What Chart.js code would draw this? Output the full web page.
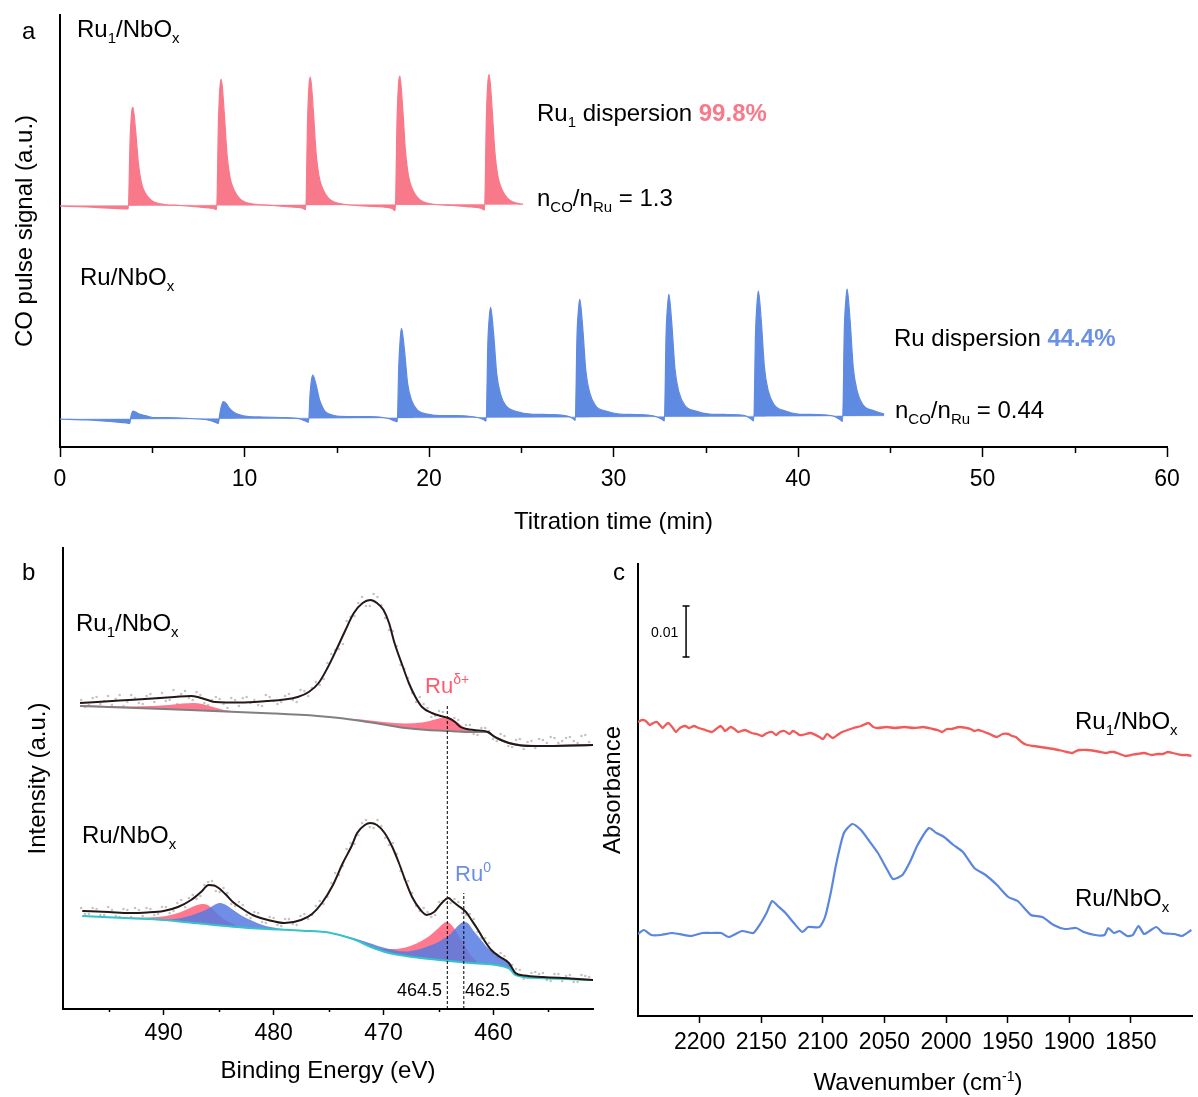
<!DOCTYPE html>
<html>
<head>
<meta charset="utf-8">
<script src="https://cdn.jsdelivr.net/npm/chart.js@4.4.0/dist/chart.umd.min.js"></script>
<style>
body { margin: 0; background: #fff; }
#wrap { position: relative; width: 1198px; height: 1097px; overflow: hidden; font-family: "Liberation Sans", Arial, sans-serif; color: #000; background: #fff; }
canvas { position: absolute; }
.t { position: absolute; font-size: 24px; line-height: 26px; white-space: nowrap; }
.t sub { font-size: 15px; vertical-align: -6px; line-height: 0; }
.t sup { font-size: 14px; vertical-align: 9px; line-height: 0; }
.s22 { font-size: 22px; }
.num { font-size: 18px; line-height: 22px; }
.bar { font-size: 14px; line-height: 16px; }
</style>
</head>
<body>
<div id="wrap">
  <canvas id="pulse" width="1198" height="540" style="left:0;top:0"></canvas>
  <canvas id="xps" width="600" height="557" style="left:0;top:540px"></canvas>
  <canvas id="ir" width="598" height="557" style="left:600px;top:540px"></canvas>

  <div class="t" style="left:22px;top:18px">a</div>
  <div class="t" style="left:77px;top:16px">Ru<sub>1</sub>/NbO<sub>x</sub></div>
  <div class="t" style="left:537px;top:100px">Ru<sub>1</sub> dispersion <b style="color:#f8798a">99.8%</b></div>
  <div class="t" style="left:537px;top:185px">n<sub>CO</sub>/n<sub>Ru</sub> = 1.3</div>
  <div class="t" style="left:80px;top:264px">Ru/NbO<sub>x</sub></div>
  <div class="t" style="left:894px;top:325px">Ru dispersion <b style="color:#6a91e6">44.4%</b></div>
  <div class="t" style="left:895px;top:397px">n<sub>CO</sub>/n<sub>Ru</sub> = 0.44</div>

  <div class="t" style="left:22px;top:559px">b</div>
  <div class="t" style="left:76px;top:610px">Ru<sub>1</sub>/NbO<sub>x</sub></div>
  <div class="t s22" style="left:425px;top:673px;color:#ff5a6e">Ru<sup>δ+</sup></div>
  <div class="t" style="left:82px;top:822px">Ru/NbO<sub>x</sub></div>
  <div class="t s22" style="left:455px;top:861px;color:#6b8fe3">Ru<sup>0</sup></div>
  <div class="t num" style="right:756px;top:979px">464.5</div>
  <div class="t num" style="left:465px;top:979px">462.5</div>

  <div class="t" style="left:613px;top:559px">c</div>
  <div class="t bar" style="left:651px;top:624px">0.01</div>
  <div class="t" style="left:1075px;top:708px">Ru<sub>1</sub>/NbO<sub>x</sub></div>
  <div class="t" style="left:1075px;top:885px">Ru/NbO<sub>x</sub></div>
  <div class="t" style="left:918px;top:1069px;transform:translateX(-50%)">Wavenumber (cm<sup>-1</sup>)</div>
</div>

<script>
const FONT = '"Liberation Sans", Arial, sans-serif';
const PINK = '#f8798a';
const BLUE = '#5f8ae2';

// ---- a: CO pulse titration, [time (min), signal] ----
const pulseTicks = [0, 10, 20, 30, 40, 50, 60];
const pulseMinor = [5, 15, 25, 35, 45, 55];

const ru1Pulses = [
  [0, 241], [1.5, 240], [3.0, 238.5], [3.6, 238], [3.70, 238],
  [3.80, 307], [3.88, 334], [3.95, 339.7], [4.11, 314], [4.25, 283.4], [4.42, 263.7], [4.63, 253.8], [4.94, 246.9], [5.25, 244], [5.67, 242.5],
  [6.5, 241.5], [7.5, 240], [8.3, 238.5], [8.49, 237.5],
  [8.59, 326], [8.67, 360], [8.74, 367.7], [8.90, 334.8], [9.04, 295.5], [9.21, 270.1], [9.42, 257.5], [9.73, 248.6], [10.04, 244.8], [10.46, 243],
  [11.5, 241.5], [12.5, 240], [13.1, 239], [13.32, 237.5],
  [13.42, 327.4], [13.50, 362.3], [13.57, 370], [13.73, 336.5], [13.87, 296.5], [14.04, 270.7], [14.25, 257.8], [14.56, 248.7], [14.87, 244.9], [15.29, 243],
  [16.5, 241], [17.5, 240], [18.0, 238.5], [18.17, 236.5],
  [18.27, 328.1], [18.35, 363.2], [18.42, 371], [18.58, 337.2], [18.72, 296.9], [18.89, 270.9], [19.10, 257.9], [19.41, 248.8], [19.72, 244.9], [20.14, 243],
  [21.3, 241.5], [22.3, 240], [22.85, 238.5], [23.01, 237],
  [23.11, 329], [23.19, 364.4], [23.26, 372.3], [23.42, 338.2], [23.56, 297.5], [23.73, 271.2], [23.94, 258.1], [24.25, 248.9], [24.56, 244.9], [24.98, 243], [25.1, 242.7]
];
const ru1Base = [[0, 241.3], [25.1, 242.7]];

const ruPulses = [
  [0, 28], [1.5, 27], [3.0, 25], [3.6, 24], [3.78, 23.7],
  [3.85, 31], [3.92, 35], [3.97, 36], [4.1, 35], [4.3, 33], [4.63, 31.3], [5.04, 29.5], [5.8, 29.5], [7.0, 28.5], [8.0, 27], [8.45, 24.5], [8.58, 23.7],
  [8.66, 33], [8.75, 41], [8.83, 45], [8.88, 45.3], [9.0, 43.5], [9.19, 38.7], [9.4, 35], [9.61, 33], [10.23, 30.3], [11.0, 30], [12.0, 29.5], [13.0, 28], [13.35, 25.5], [13.47, 24.7],
  [13.55, 52], [13.63, 67], [13.70, 72], [13.86, 63.7], [14.07, 47], [14.25, 39], [14.38, 35.3], [14.6, 33], [15.0, 31], [15.8, 30.5], [16.8, 30.5], [17.8, 28.5], [18.15, 26], [18.28, 25.3],
  [18.36, 80], [18.44, 108], [18.51, 118.7], [18.67, 97], [18.84, 63.7], [19.05, 47], [19.36, 37], [19.98, 32.7], [20.6, 31.3], [21.5, 31.5], [22.5, 30], [22.95, 27.5], [23.1, 26],
  [23.19, 104], [23.27, 130], [23.34, 139.7], [23.50, 113.6], [23.67, 73.4], [23.88, 52.7], [24.19, 40.8], [24.81, 35.3], [25.5, 33], [26.5, 32.5], [27.5, 31], [27.8, 28.5], [27.93, 26.5],
  [28.02, 110], [28.10, 137], [28.17, 147.7], [28.33, 119.7], [28.50, 76.5], [28.71, 54.3], [29.02, 41.5], [29.64, 35.7], [30.3, 33], [31.2, 32.5], [32.2, 31], [32.6, 28], [32.76, 26],
  [32.85, 113], [32.93, 141], [33.0, 152.7], [33.16, 123.5], [33.33, 78.5], [33.54, 55.3], [33.85, 42], [34.47, 35.9], [35.2, 33], [36.2, 32.5], [37.1, 31.5], [37.45, 28], [37.6, 26],
  [37.70, 115], [37.78, 144], [37.85, 156], [38.01, 126], [38.18, 79.8], [38.39, 56], [38.70, 42.3], [39.32, 36], [40.0, 33], [41.0, 32.5], [41.9, 31], [42.27, 27.5], [42.42, 25.5],
  [42.51, 117], [42.59, 146], [42.66, 158], [42.82, 127.5], [42.99, 80.5], [43.20, 56.4], [43.51, 42.4], [44.13, 36.1], [44.67, 33]
];
const ruBase = [[0, 27.7], [44.67, 31.3]];

// ---- b: Ru 3p XPS, [binding energy (eV), intensity] ----
const xpsTicks = [460, 470, 480, 490];
const xpsMinor = [455, 465, 475, 485, 495];

const xpsGridEV = [497.5, 496.8, 496.1, 495.4, 494.7, 494.0, 493.3, 492.6, 491.9, 491.2, 490.5, 489.8, 489.1, 488.4, 487.7, 487.0, 486.3,
  485.6, 484.9, 484.2, 483.5, 482.8, 482.1, 481.4, 480.7, 480.0, 479.3, 478.6, 477.9, 477.2, 476.5, 475.8, 475.1, 474.4, 473.7, 473.0,
  472.3, 471.6, 470.9, 470.2, 469.5, 468.8, 468.1, 467.4, 466.7, 466.0, 465.3, 464.6, 463.9, 463.2, 462.5, 461.8, 461.1, 460.4, 459.7,
  459.0, 458.3, 457.6, 456.9, 456.2, 455.5, 454.8, 454.1, 453.4, 452.7, 452.0, 451.3];
const rawTop = [309, 304, 312, 308, 304, 314, 307, 311, 305, 315, 311, 308, 319, 315, 311, 317, 306, 309, 310, 301, 309, 311, 306, 304,
  314, 308, 307, 315, 307, 318, 321, 324, 346, 359, 365, 392, 406, 403, 415, 404, 379, 363, 340, 316, 312, 301, 293, 297, 285, 289, 284,
  275, 281, 278, 268, 273, 262, 270, 267, 261, 269, 272, 266, 271, 268, 273, 267];
const rawBottom = [101, 95, 100, 94, 99, 92, 99, 101, 93, 100, 95, 102, 98, 109, 111, 110, 124, 128, 117, 116, 103, 104, 91, 96, 86, 91,
  83, 90, 84, 95, 94, 108, 112, 136, 143, 166, 174, 189, 181, 183, 164, 155, 130, 116, 98, 97, 94, 108, 106, 107, 94, 90, 71, 66, 52, 53,
  44, 39, 31, 37, 36, 28, 35, 33, 27, 34, 32];

const xpsGridEV2 = [497.15, 496.45, 495.75, 495.05, 494.35, 493.65, 492.95, 492.25, 491.55, 490.85, 490.15, 489.45, 488.75, 488.05,
  487.35, 486.65, 485.95, 485.25, 484.55, 483.85, 483.15, 482.45, 481.75, 481.05, 480.35, 479.65, 478.95, 478.25, 477.55, 476.85,
  476.15, 475.45, 474.75, 474.05, 473.35, 472.65, 471.95, 471.25, 470.55, 469.85, 469.15, 468.45, 467.75, 467.05, 466.35, 465.65,
  464.95, 464.25, 463.55, 462.85, 462.15, 461.45, 460.75, 460.05, 459.35, 458.65, 457.95, 457.25, 456.55, 455.85, 455.15, 454.45,
  453.75, 453.05, 452.35, 451.65];
const rawTop2 = [302, 311, 305, 313, 310, 303, 314, 306, 313, 307, 316, 309, 305, 318, 309, 314, 304, 312, 305, 311, 303, 312, 309, 303,
  312, 305, 313, 309, 319, 313, 327, 330, 355, 360, 388, 393, 412, 403, 412, 391, 378, 344, 331, 307, 305, 292, 298, 288, 291, 278, 284,
  274, 281, 270, 275, 263, 269, 260, 268, 270, 266, 271, 268, 272, 266, 274];
const rawBottom2 = [95, 101, 94, 102, 93, 100, 92, 99, 101, 94, 102, 96, 106, 102, 114, 113, 127, 118, 121, 105, 107, 94, 97, 87, 92, 84,
  90, 85, 93, 90, 103, 105, 126, 134, 160, 165, 186, 182, 189, 171, 166, 138, 128, 103, 101, 92, 107, 106, 110, 96, 95, 77, 71, 55, 56,
  43, 40, 30, 36, 35, 29, 35, 28, 34, 27, 33];

const fitTop = [[497.6, 306], [494, 308.5], [491, 310.5], [489, 312], [487.5, 313], [486.9, 312], [486, 309], [485.3, 307], [483, 306.5],
  [480.6, 308], [479, 309.5], [477.8, 312], [476.8, 317], [475.9, 326], [475.1, 341], [474.3, 359], [473.5, 378], [472.7, 396], [471.9, 406],
  [471.2, 409], [470.6, 406], [470.0, 399], [469.5, 386], [469.0, 366], [468.3, 344], [467.7, 326], [467.1, 312], [466.5, 302], [465.6, 296],
  [464.8, 293], [464.1, 291], [463.5, 287], [463.0, 282], [462.4, 280], [461.8, 279], [460.5, 277], [460.0, 273], [459.5, 270], [458.6, 266],
  [457.5, 263.5], [456.1, 263], [453, 263.5], [450.9, 264]];
const bgTop = [[497.6, 303], [490, 300], [480, 295.5], [476, 293], [474, 291], [472, 288], [470, 284.5], [468, 281], [466, 279], [464, 278],
  [462, 277], [460.6, 277], [459.9, 272], [458.6, 266], [456.1, 263], [450.9, 264]];
const pinkTopL = [[497.5, 304], [495, 303], [493, 302.5], [491, 303], [489.5, 304], [488.3, 305.5], [487.3, 306], [486.5, 305], [485.5, 302],
  [484.5, 299], [483.5, 297.6]];
const pinkTop = [[474, 291], [472, 289.5], [470, 287], [468, 285.5], [466.5, 286.5], [465.5, 289], [464.8, 291], [464.3, 292], [463.8, 290.5],
  [463.2, 286], [462.5, 280.5], [461.8, 277.5], [461, 277]];

const fitBottom = [[497.4, 98], [495, 97], [493.1, 96], [491.5, 96.5], [490.0, 98], [488.7, 102], [487.5, 109], [486.6, 117], [485.9, 124],
  [485.4, 123.5], [485.0, 121], [484.3, 114], [483.7, 107], [482.8, 100], [481.9, 94], [480.5, 89], [479.0, 86], [477.5, 89], [476.5, 95],
  [475.6, 106], [474.6, 124], [473.7, 146], [472.9, 163], [472.4, 176], [471.7, 184], [471.2, 186], [470.6, 184], [469.9, 176], [469.2, 162],
  [468.6, 146], [468.0, 128], [467.4, 112], [466.7, 100], [466.1, 94], [465.4, 97], [464.7, 106], [464.1, 111], [463.7, 107.5], [463.3, 104],
  [462.5, 97], [462.0, 89], [461.4, 79], [460.8, 68], [460.2, 59], [459.4, 52], [458.6, 46], [458.0, 36], [457.2, 33.5], [455.5, 32],
  [453, 30.5], [450.9, 29]];
const bgBottom = [[497.4, 93], [493.1, 90.7], [490.0, 89], [486.9, 85.7], [483.7, 82.3], [480.6, 80], [477.4, 78.3], [474.9, 76.3],
  [472.7, 69.7], [471.2, 62.3], [469.6, 56.3], [468.0, 53], [464.9, 49], [461.8, 45.7], [458.6, 40.7], [458.0, 34], [455.5, 30.7], [450.9, 29]];
const pinkBottomL = [[495, 92], [492.5, 91.5], [490.5, 92], [489, 95], [488, 99], [487.2, 103], [486.5, 105], [486.0, 104], [485.5, 99.5],
  [485, 94], [484.3, 88.5], [483.5, 84]];
const blueBottomL = [[490.5, 89.5], [489, 90], [488, 92], [487, 95.5], [486, 100], [485.4, 104], [484.9, 106], [484.4, 104.5], [483.8, 100],
  [483, 94], [482, 88.5], [481, 84], [479.5, 80.5], [478, 79]];
const pinkBottom = [[474, 74.5], [472, 67.5], [470, 60], [469, 60], [468, 61.5], [467, 65.5], [466.1, 71], [465.5, 76], [464.9, 82],
  [464.5, 86], [464.3, 87], [464.0, 86], [463.6, 81], [463.2, 74], [462.6, 63], [462, 53], [461.5, 47]];
const blueBottom = [[476, 78], [474, 74.5], [472, 68.5], [470, 61.5], [468, 57.5], [467, 59], [466, 62.5], [465, 67], [464.5, 70.5],
  [464, 74], [463.5, 80], [463, 85.5], [462.7, 87], [462.3, 85.5], [461.8, 78], [461.2, 70], [460.6, 62], [460.2, 58], [459.6, 53],
  [459, 49.5], [458.6, 46], [458.2, 40], [458, 36], [457.5, 34], [457, 33]];
const refLineEV = [464.2, 462.7];
const refLineTop = [303, 116];

// ---- c: CO-DRIFTS, [wavenumber (cm-1), absorbance] ----
const irTicks = [1850, 1900, 1950, 2000, 2050, 2100, 2150, 2200];
const irRu1 = [[2250, 294], [2246.8, 296], [2243.7, 295], [2240.6, 291], [2237.6, 293], [2234.6, 294], [2232.3, 291], [2230, 288],
  [2227.7, 291], [2225.4, 293], [2222.3, 289], [2219.2, 284], [2216.9, 287], [2214.6, 289], [2211.5, 290], [2208.5, 288], [2204.6, 290],
  [2200.8, 288], [2195.4, 286], [2190.1, 284], [2186.6, 287], [2183.1, 290], [2181.2, 288], [2179.4, 285], [2177.1, 287], [2174.8, 289],
  [2171.7, 287], [2168.7, 284], [2163.3, 286], [2157.9, 283], [2153.6, 282], [2149.4, 280], [2145.2, 283], [2141.1, 284], [2138, 281],
  [2134.9, 284], [2131.1, 285], [2127.3, 282], [2124.2, 285], [2121.2, 283], [2118.9, 281], [2116.6, 281], [2109.7, 283], [2102.8, 279],
  [2099.7, 277], [2096.7, 282], [2094.3, 280], [2092, 278], [2088.2, 281], [2084.4, 284], [2079.8, 286], [2075.2, 288], [2069, 290],
  [2062.9, 293], [2059.1, 289], [2055.3, 288], [2048.4, 289], [2041.5, 288], [2033.8, 289], [2026.1, 288], [2018.5, 289], [2010.9, 287],
  [2007, 286], [2003.1, 284], [1999.3, 287], [1995.5, 287], [1989.4, 289], [1983.3, 288], [1980.2, 287], [1977.1, 285], [1974, 286],
  [1971, 285], [1964.8, 282], [1958.7, 279], [1954.1, 282], [1949.5, 282], [1946.4, 280], [1943.4, 279], [1938.8, 274], [1934.2, 271],
  [1928.8, 270], [1923.5, 269], [1918.1, 268], [1912.7, 267], [1905.1, 265], [1897.5, 263], [1894.4, 265], [1891.3, 266], [1885.2, 266],
  [1879.1, 265], [1874.5, 264], [1869.9, 263], [1866.8, 264], [1863.7, 264], [1859.1, 262], [1854.6, 260], [1849.9, 261], [1845.3, 262],
  [1839.2, 263], [1833.1, 261], [1828.5, 262], [1823.9, 262], [1820, 264], [1816.2, 263], [1812.4, 262], [1808.6, 261], [1804.7, 261],
  [1800.9, 260]];
const irRu = [[2250, 82], [2245.3, 86], [2239.2, 81], [2231.5, 81], [2222.3, 83], [2207, 80], [2197.8, 83], [2190.1, 83], [2182.5, 83],
  [2176.3, 79], [2165.6, 85], [2156.4, 83], [2150.3, 93], [2145.7, 103], [2141.1, 115], [2136.5, 110], [2130.3, 103], [2124.2, 94],
  [2116.6, 84], [2111.9, 89], [2102.8, 89], [2098.2, 99], [2093.6, 123], [2089, 153], [2082.9, 183], [2076.1, 192], [2069.1, 186],
  [2062.9, 176], [2055.3, 163], [2047.6, 146], [2043, 137], [2035.4, 141], [2029.3, 154], [2023.1, 171], [2013.9, 188], [2007.8, 183],
  [2001.6, 179], [1994, 171], [1986.3, 164], [1977.1, 148], [1967.9, 141], [1958.7, 131], [1949.5, 119], [1941.9, 115], [1931.1, 101],
  [1921.9, 99], [1912.7, 91], [1903.6, 87], [1894.4, 88], [1888.2, 84], [1879.1, 81], [1871.4, 81], [1868.4, 88], [1863.7, 83],
  [1859.1, 85], [1853, 80], [1848.4, 81], [1843.8, 90], [1839.2, 82], [1829.4, 89], [1823.9, 83], [1814.7, 82], [1808.6, 80], [1800.9, 86]];
const scaleBarWN = 2211;
const scaleBarAbs = [359, 410]; // 0.01 a.u.

const pts = arr => arr.map(p => ({ x: p[0], y: p[1] }));

// minor tick marks below the x axis
const minorTicks = {
    id: 'minorTicks',
    afterDraw(chart, args, opts) {
        if (!opts.values) return;
        const { ctx } = chart;
        const x = chart.scales.x;
        const y0 = chart.chartArea.bottom;
        ctx.save();
        ctx.strokeStyle = '#000';
        ctx.lineWidth = 1.5;
        opts.values.forEach(v => {
            const px = Math.round(x.getPixelForValue(v)) + 0.5;
            ctx.beginPath();
            ctx.moveTo(px, y0);
            ctx.lineTo(px, y0 + opts.length);
            ctx.stroke();
        });
        ctx.restore();
    }
};

function xAxis(o) {
    return {
        type: 'linear', min: o.min, max: o.max, reverse: !!o.reverse,
        afterBuildTicks: s => { s.ticks = o.ticks.map(v => ({ value: v })); },
        afterFit: s => { s.height = o.height; },
        ticks: { color: '#000', font: { family: FONT, size: 23 }, padding: o.pad, maxRotation: 0, autoSkip: false, callback: v => String(v) },
        grid: { drawOnChartArea: false, drawTicks: true, tickLength: o.tick, tickWidth: 1.5, tickColor: '#000' },
        border: { display: true, color: '#000', width: 2 },
        title: o.title
            ? { display: true, text: o.title, color: '#000', font: { family: FONT, size: 24 }, padding: { top: 0, bottom: o.titlePad } }
            : { display: false }
    };
}

function yAxis(o) {
    return {
        type: 'linear', min: 0, max: o.max,
        afterFit: s => { s.width = o.width; },
        ticks: { display: false },
        grid: { display: false },
        border: { display: true, color: '#000', width: 2 },
        title: { display: true, text: o.title, color: '#000', font: { family: FONT, size: 24 }, padding: { top: o.titlePad, bottom: 0 } }
    };
}

function baseOptions(padding, scales, minor) {
    return {
        responsive: false,
        animation: false,
        layout: { padding },
        plugins: { legend: { display: false }, tooltip: { enabled: false }, minorTicks: minor },
        elements: { point: { radius: 0 } },
        scales
    };
}

function line(data, color, width, extra) {
    return Object.assign({
        data: pts(data), borderColor: color, borderWidth: width, pointRadius: 0,
        fill: false, cubicInterpolationMode: 'monotone'
    }, extra || {});
}

function peak(data, color, target) {
    return line(data, 'rgba(0,0,0,0)', 0, { backgroundColor: color, fill: target });
}

function createPulseChart() {
    new Chart(document.getElementById('pulse'), {
        type: 'line',
        data: {
            datasets: [
                line(ru1Pulses, PINK, 1.2, { backgroundColor: PINK, fill: '+1' }),
                line(ru1Base, 'rgba(248,121,138,0.45)', 1),
                line(ruPulses, BLUE, 1.2, { backgroundColor: BLUE, fill: '+1' }),
                line(ruBase, 'rgba(95,138,226,0.45)', 1)
            ]
        },
        options: baseOptions({ top: 15, right: 31, left: 0, bottom: 0 }, {
            x: xAxis({ min: 0, max: 60, ticks: pulseTicks, height: 93, pad: 9, tick: 10, title: 'Titration time (min)', titlePad: 3 }),
            y: yAxis({ max: 432, width: 60, title: 'CO pulse signal (a.u.)', titlePad: 11 })
        }, { values: pulseMinor, length: 6 }),
        plugins: [minorTicks]
    });
}

function createXpsChart() {
    const dashed = (i) => line([[refLineEV[i], 0], [refLineEV[i], refLineTop[i]]], '#000', 1, { borderDash: [3, 2], cubicInterpolationMode: 'default' });
    const raw = (grid, vals) => ({
        data: grid.map((e, i) => ({ x: e, y: vals[i] })), showLine: false,
        pointRadius: 1.3, pointBackgroundColor: '#c4c4c4', pointBorderWidth: 0, borderColor: '#c4c4c4'
    });
    new Chart(document.getElementById('xps'), {
        type: 'line',
        data: {
            datasets: [
                line(fitTop, '#231815', 2),
                line(fitBottom, '#231815', 2),
                dashed(0),
                dashed(1),
                line(bgTop, '#808080', 2),
                line(bgBottom, '#34c3c6', 2),
                peak(blueBottom, 'rgba(86,122,226,0.85)', 5),
                peak(blueBottomL, 'rgba(86,122,226,0.85)', 5),
                peak(pinkBottom, 'rgba(255,108,132,0.92)', 5),
                peak(pinkBottomL, 'rgba(255,108,132,0.92)', 5),
                peak(pinkTop, 'rgba(255,108,132,0.92)', 4),
                peak(pinkTopL, 'rgba(255,108,132,0.92)', 4),
                raw(xpsGridEV, rawTop),
                raw(xpsGridEV, rawBottom),
                raw(xpsGridEV2, rawTop2),
                raw(xpsGridEV2, rawBottom2)
            ]
        },
        options: baseOptions({ top: 8, right: 7, left: 0, bottom: 0 }, {
            x: xAxis({ min: 450.95, max: 499.15, reverse: true, ticks: xpsTicks, height: 88, pad: 5, tick: 6, title: 'Binding Energy (eV)', titlePad: 11 }),
            y: yAxis({ max: 461, width: 63, title: 'Intensity (a.u.)', titlePad: 24 })
        }, { values: xpsMinor, length: 3 }),
        plugins: [minorTicks]
    });
}

function createIrChart() {
    new Chart(document.getElementById('ir'), {
        type: 'line',
        data: {
            datasets: [
                line(irRu1, '#f25a5a', 2.3, { cubicInterpolationMode: 'default', tension: 0.2 }),
                line(irRu, '#5b86e0', 2.2, { cubicInterpolationMode: 'default', tension: 0.2 }),
                {
                    data: scaleBarAbs.map(v => ({ x: scaleBarWN, y: v })), borderColor: '#000', borderWidth: 1.5,
                    pointStyle: 'line', pointRadius: 3.5, pointBorderColor: '#000', pointBorderWidth: 1.5
                }
            ]
        },
        options: baseOptions({ top: 24, right: 0, left: 0, bottom: 0 }, {
            x: xAxis({ min: 1800, max: 2250, reverse: true, ticks: irTicks, height: 81, pad: 6, tick: 7 }),
            y: yAxis({ max: 452, width: 38, title: 'Absorbance', titlePad: -1 })
        }, {}),
        plugins: [minorTicks]
    });
}

createPulseChart();
createXpsChart();
createIrChart();
</script>
</body>
</html>
